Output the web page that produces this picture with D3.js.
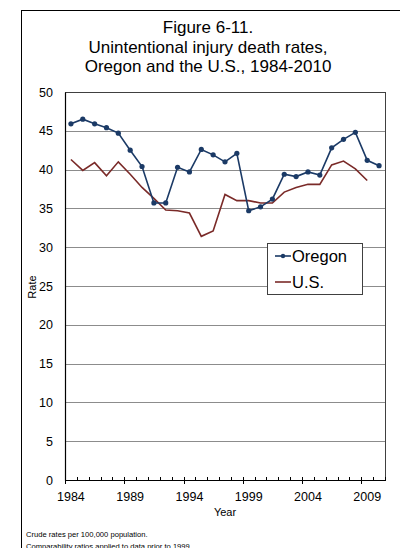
<!DOCTYPE html>
<html lang="en">
<head>
<meta charset="UTF-8">
<title>Figure 6-11</title>
<script src="https://d3js.org/d3.v7.min.js"></script>
<style>
  body { margin: 0; background: white; }
  svg { display: block; font-family: "Liberation Sans", Arial, sans-serif; }
</style>
</head>
<body>
<svg id="chart" width="400" height="548"></svg>
<script>
// data
const years = d3.range(1984, 2011);
const oregon = [45.9, 46.5, 45.9, 45.4, 44.7, 42.5, 40.4, 35.7, 35.7, 40.3, 39.7,
                42.6, 41.9, 41.0, 42.1, 34.7, 35.2, 36.2, 39.4, 39.1, 39.7, 39.3,
                42.8, 43.9, 44.8, 41.2, 40.5];
const us = [41.3, 39.9, 40.9, 39.2, 41.0, 39.4, 37.7, 36.3, 34.8, 34.7, 34.4,
            31.4, 32.1, 36.8, 36.0, 36.0, 35.7, 35.7, 37.1, 37.7, 38.1, 38.1,
            40.6, 41.1, 40.1, 38.6];
const yTicks = d3.range(0, 55, 5);
const xLabels = [1984, 1989, 1994, 1999, 2004, 2009];
const titleLines = ["Figure 6-11.", "Unintentional injury death rates,", "Oregon and the U.S., 1984-2010"];
const notes = ["Crude rates per 100,000 population.", "Comparability ratios applied to data prior to 1999."];

const svg = d3.select("#chart");
const plot = { left: 65, right: 385, top: 92, bottom: 480 };

// outer frame (runs off the right and bottom edge)
svg.append("rect")
  .attr("x", 21.5).attr("y", 10.5).attr("width", 400).attr("height", 600)
  .attr("fill", "white").attr("stroke", "#000").attr("stroke-width", 1);

// title
svg.append("g").selectAll("text").data(titleLines).join("text")
  .attr("x", 208).attr("y", (d, i) => 33 + i * 19.5)
  .attr("text-anchor", "middle").attr("font-size", 17).attr("fill", "#000")
  .text(d => d);

// scales
const x = d3.scaleBand().domain(years).range([plot.left, plot.right]);
const y = d3.scaleLinear().domain([0, 50]).range([plot.bottom, plot.top]);

// gridlines
svg.append("g").selectAll("line").data(yTicks.filter(d => d > 0 && d < 50)).join("line")
  .attr("x1", plot.left).attr("x2", plot.right)
  .attr("y1", d => Math.round(y(d)) + 0.5).attr("y2", d => Math.round(y(d)) + 0.5)
  .attr("stroke", "#8c8c8c").attr("stroke-width", 1);

// plot border
svg.append("rect")
  .attr("x", plot.left + 0.5).attr("y", plot.top + 0.5)
  .attr("width", plot.right - plot.left).attr("height", plot.bottom - plot.top)
  .attr("fill", "none").attr("stroke", "#404040");

// y axis
const yAxis = d3.axisLeft(y).tickValues(yTicks).tickSize(0).tickPadding(12);
svg.append("g").attr("transform", `translate(${plot.left},0)`).call(yAxis)
  .call(g => g.select(".domain").attr("stroke", "#000").attr("stroke-width", 1.2))
  .call(g => g.selectAll("text").attr("font-size", 12.5).attr("fill", "#000")
    .attr("font-family", "\"Liberation Sans\", Arial, sans-serif"));

// x axis: minor ticks at every category boundary, majors every 5
const bounds = d3.range(0, years.length + 1).map(i => plot.left + i * x.step());
const xg = svg.append("g");
xg.append("line").attr("x1", plot.left).attr("x2", plot.right + 1)
  .attr("y1", plot.bottom + 0.5).attr("y2", plot.bottom + 0.5)
  .attr("stroke", "#000").attr("stroke-width", 1.2);
xg.selectAll("line.tick").data(bounds).join("line").attr("class", "tick")
  .attr("x1", d => Math.round(d) + 0.5).attr("x2", d => Math.round(d) + 0.5)
  .attr("y1", (d, i) => i % 5 === 0 ? plot.bottom - 3 : plot.bottom - 3)
  .attr("y2", (d, i) => i % 5 === 0 ? plot.bottom + 4 : plot.bottom)
  .attr("stroke", "#000");
xg.selectAll("text").data(xLabels).join("text")
  .attr("x", d => x(d) + x.bandwidth() / 2).attr("y", 501)
  .attr("text-anchor", "middle").attr("font-size", 12.5).attr("fill", "#000")
  .text(d => d);

// axis titles
svg.append("text").attr("x", (plot.left + plot.right) / 2).attr("y", 516)
  .attr("text-anchor", "middle").attr("font-size", 11).text("Year");
svg.append("text").attr("transform", "translate(36,287) rotate(-90)")
  .attr("text-anchor", "middle").attr("font-size", 11).text("Rate");

// series
const cx = d => x(d) + x.bandwidth() / 2;
const line = d3.line().x(d => cx(d[0])).y(d => y(d[1]));
const orColor = "#1b3a66", usColor = "#7a2a28";

svg.append("path").datum(d3.zip(years, us))
  .attr("d", line).attr("fill", "none").attr("stroke", usColor).attr("stroke-width", 1.6);
svg.append("path").datum(d3.zip(years, oregon))
  .attr("d", line).attr("fill", "none").attr("stroke", orColor).attr("stroke-width", 1.6);
svg.append("g").selectAll("circle").data(d3.zip(years, oregon)).join("circle")
  .attr("cx", d => cx(d[0])).attr("cy", d => y(d[1])).attr("r", 2.6)
  .attr("fill", orColor);

// legend
const lg = svg.append("g").attr("transform", "translate(267,243)");
lg.append("rect").attr("x", 0.5).attr("y", 0.5).attr("width", 95).attr("height", 51)
  .attr("fill", "white").attr("stroke", "#404040");
const items = [["Oregon", orColor, true], ["U.S.", usColor, false]];
items.forEach(([name, col, dot], i) => {
  const cy = 13 + i * 26;
  lg.append("line").attr("x1", 8).attr("x2", 24).attr("y1", cy).attr("y2", cy)
    .attr("stroke", col).attr("stroke-width", 1.6);
  if (dot) lg.append("circle").attr("cx", 16).attr("cy", cy).attr("r", 2.2).attr("fill", col);
  lg.append("text").attr("x", 25).attr("y", cy + 6).attr("font-size", 16.5).text(name);
});

// footnotes
svg.append("g").selectAll("text").data(notes).join("text")
  .attr("x", 26).attr("y", (d, i) => 537 + i * 11.5)
  .attr("font-size", 7.6).attr("fill", "#000").text(d => d);
</script>
</body>
</html>
